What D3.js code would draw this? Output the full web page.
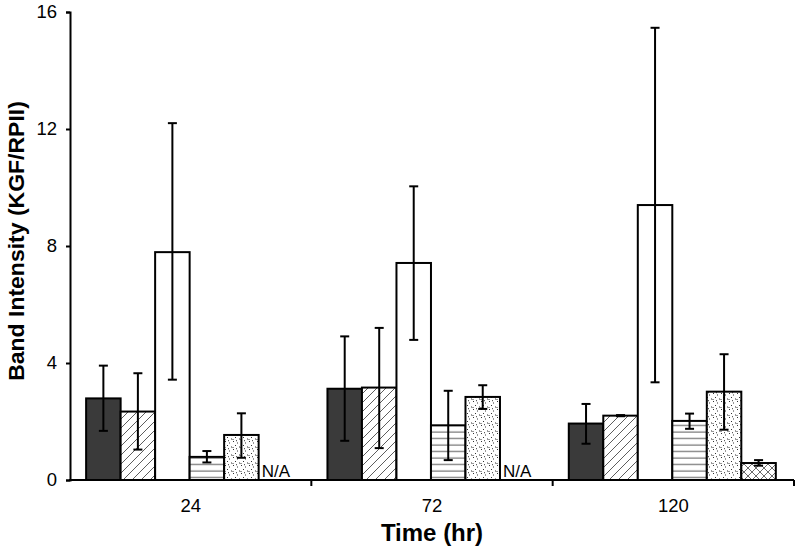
<!DOCTYPE html>
<html>
<head>
<meta charset="utf-8">
<script src="https://cdn.jsdelivr.net/npm/d3@7"></script>
<style>
  html, body { margin: 0; padding: 0; background: #fff; }
  svg { display: block; }
  text { font-family: Arial, "Liberation Sans", sans-serif; }
</style>
</head>
<body>
<svg id="chart" width="800" height="554"></svg>
<script>
// ---- Data ----
const categories = ["24", "72", "120"];
const seriesNames = ["S1", "S2", "S3", "S4", "S5", "S6"];
// mean values per series per time point; null = N/A
const s1 = [2.79, 3.12, 1.93];
const s2 = [2.34, 3.16, 2.20];
const s3 = [7.79, 7.42, 9.40];
const s4 = [0.79, 1.87, 2.02];
const s5 = [1.54, 2.84, 3.02];
const s6 = [null, null, 0.58];
// error bar top / bottom values
const errHigh = [
  [3.91, 4.91, 2.60],
  [3.65, 5.20, 2.22],
  [12.2, 10.04, 15.46],
  [0.99, 3.05, 2.27],
  [2.28, 3.24, 4.30],
  [null, null, 0.68]
];
const errLow = [
  [1.68, 1.34, 1.24],
  [1.04, 1.09, 2.18],
  [3.43, 4.79, 3.34],
  [0.60, 0.68, 1.75],
  [0.76, 2.43, 1.72],
  [null, null, 0.49]
];
const yTicks = [0, 4, 8, 12, 16];
const yTitle = "Band Intensity (KGF/RPII)";
const xTitle = "Time (hr)";
const naLabel = "N/A";

const series = [s1, s2, s3, s4, s5, s6];

// ---- Layout ----
const svg = d3.select("#chart");
const mLeft = 70, mRight = 794, mTop = 12, mBottom = 480;

const x0 = d3.scaleBand().domain(categories).range([mLeft, mRight]).paddingInner(0).paddingOuter(0);
const x1 = d3.scaleBand().domain(d3.range(seriesNames.length)).range([0, x0.bandwidth()])
  .paddingInner(0).paddingOuter(0.497).align(0.47);
const y = d3.scaleLinear().domain([0, 16]).range([mBottom, mTop]);

// ---- Patterns ----
const defs = svg.append("defs");
const diag = defs.append("pattern").attr("id", "pDiag").attr("patternUnits", "userSpaceOnUse")
  .attr("width", 9).attr("height", 9);
diag.append("rect").attr("width", 9).attr("height", 9).attr("fill", "#fff");
diag.append("path").attr("d", "M-1,10 L10,-1 M-2,2 L2,-2 M7,11 L11,7")
  .attr("stroke", "#333").attr("stroke-width", 0.8);

const horiz = defs.append("pattern").attr("id", "pHoriz").attr("patternUnits", "userSpaceOnUse")
  .attr("width", 8).attr("height", 6.5);
horiz.append("rect").attr("width", 8).attr("height", 6.5).attr("fill", "#fff");
horiz.append("line").attr("x1", 0).attr("x2", 8).attr("y1", 3).attr("y2", 3)
  .attr("stroke", "#555").attr("stroke-width", 1);

const dots = defs.append("pattern").attr("id", "pDots").attr("patternUnits", "userSpaceOnUse")
  .attr("width", 8).attr("height", 8);
dots.append("rect").attr("width", 8).attr("height", 8).attr("fill", "#fff");
[[1,1],[5,2.5],[3,5],[7,6.5],[0.5,7],[4,0.2]].forEach(([px, py]) => {
  dots.append("rect").attr("x", px).attr("y", py).attr("width", 1).attr("height", 1).attr("fill", "#333");
});

const cross = defs.append("pattern").attr("id", "pCross").attr("patternUnits", "userSpaceOnUse")
  .attr("width", 8).attr("height", 8);
cross.append("rect").attr("width", 8).attr("height", 8).attr("fill", "#fff");
cross.append("path").attr("d", "M0,0 L8,8 M8,0 L0,8").attr("stroke", "#444").attr("stroke-width", 0.8);

const fills = ["#3a3a3a", "url(#pDiag)", "#ffffff", "url(#pHoriz)", "url(#pDots)", "url(#pCross)"];

// ---- Bars ----
const records = [];
series.forEach((arr, si) => {
  arr.forEach((v, ci) => {
    records.push({ si, ci, cat: categories[ci], v, hi: errHigh[si][ci], lo: errLow[si][ci] });
  });
});

const g = svg.append("g");
g.selectAll("rect.bar").data(records.filter(d => d.v !== null)).join("rect")
  .attr("class", "bar")
  .attr("x", d => x0(d.cat) + x1(d.si))
  .attr("y", d => y(d.v))
  .attr("width", x1.bandwidth())
  .attr("height", d => y(0) - y(d.v))
  .attr("fill", d => fills[d.si])
  .attr("stroke", "#000").attr("stroke-width", 2);

// N/A labels
g.selectAll("text.na").data(records.filter(d => d.v === null)).join("text")
  .attr("class", "na")
  .attr("x", d => x0(d.cat) + x1(d.si) + x1.bandwidth() / 2)
  .attr("y", y(0) - 3)
  .attr("text-anchor", "middle")
  .attr("font-size", 17)
  .attr("fill", "#000")
  .text(naLabel);

// Error bars
const eb = records.filter(d => d.hi !== null);
const cxf = d => x0(d.cat) + x1(d.si) + x1.bandwidth() / 2;
g.selectAll("line.err").data(eb).join("line")
  .attr("class", "err")
  .attr("x1", cxf).attr("x2", cxf)
  .attr("y1", d => y(d.hi)).attr("y2", d => y(d.lo))
  .attr("stroke", "#000").attr("stroke-width", 2);
g.selectAll("line.capT").data(eb).join("line")
  .attr("class", "capT")
  .attr("x1", d => cxf(d) - 4.5).attr("x2", d => cxf(d) + 4.5)
  .attr("y1", d => y(d.hi)).attr("y2", d => y(d.hi))
  .attr("stroke", "#000").attr("stroke-width", 2);
g.selectAll("line.capB").data(eb).join("line")
  .attr("class", "capB")
  .attr("x1", d => cxf(d) - 4.5).attr("x2", d => cxf(d) + 4.5)
  .attr("y1", d => y(d.lo)).attr("y2", d => y(d.lo))
  .attr("stroke", "#000").attr("stroke-width", 2);

// ---- Axes ----
const yAxis = d3.axisLeft(y).tickValues(yTicks).tickSize(4).tickPadding(9).tickFormat(d3.format("d"));
const ya = svg.append("g").attr("transform", `translate(${mLeft},0)`).call(yAxis);
ya.select(".domain").attr("stroke", "#000").attr("stroke-width", 2);
ya.selectAll(".tick line").attr("stroke", "#000").attr("stroke-width", 2);
ya.selectAll(".tick text").attr("font-size", 18.5).attr("fill", "#000")
  .attr("font-family", "Arial, 'Liberation Sans', sans-serif");

// x axis line with boundary ticks
const xa = svg.append("g");
xa.append("line").attr("x1", mLeft - 1).attr("x2", mRight).attr("y1", y(0)).attr("y2", y(0))
  .attr("stroke", "#000").attr("stroke-width", 2);
const bounds = categories.map(c => x0(c) + x0.bandwidth());
xa.selectAll("line.bt").data(bounds).join("line")
  .attr("class", "bt")
  .attr("x1", d => d).attr("x2", d => d)
  .attr("y1", y(0)).attr("y2", y(0) + 6)
  .attr("stroke", "#000").attr("stroke-width", 2);
xa.selectAll("text.cat").data(categories).join("text")
  .attr("class", "cat")
  .attr("x", d => x0(d) + x0.bandwidth() / 2)
  .attr("y", 512)
  .attr("text-anchor", "middle")
  .attr("font-size", 18.5)
  .attr("fill", "#000")
  .text(d => d);

// titles
svg.append("text")
  .attr("x", (mLeft + mRight) / 2).attr("y", 541)
  .attr("text-anchor", "middle").attr("font-size", 24).attr("font-weight", "bold")
  .text(xTitle);
svg.append("text")
  .attr("transform", `translate(24,241) rotate(-90) scale(1.07,1)`)
  .attr("text-anchor", "middle").attr("font-size", 21.5).attr("font-weight", "bold")
  .text(yTitle);
</script>
</body>
</html>
